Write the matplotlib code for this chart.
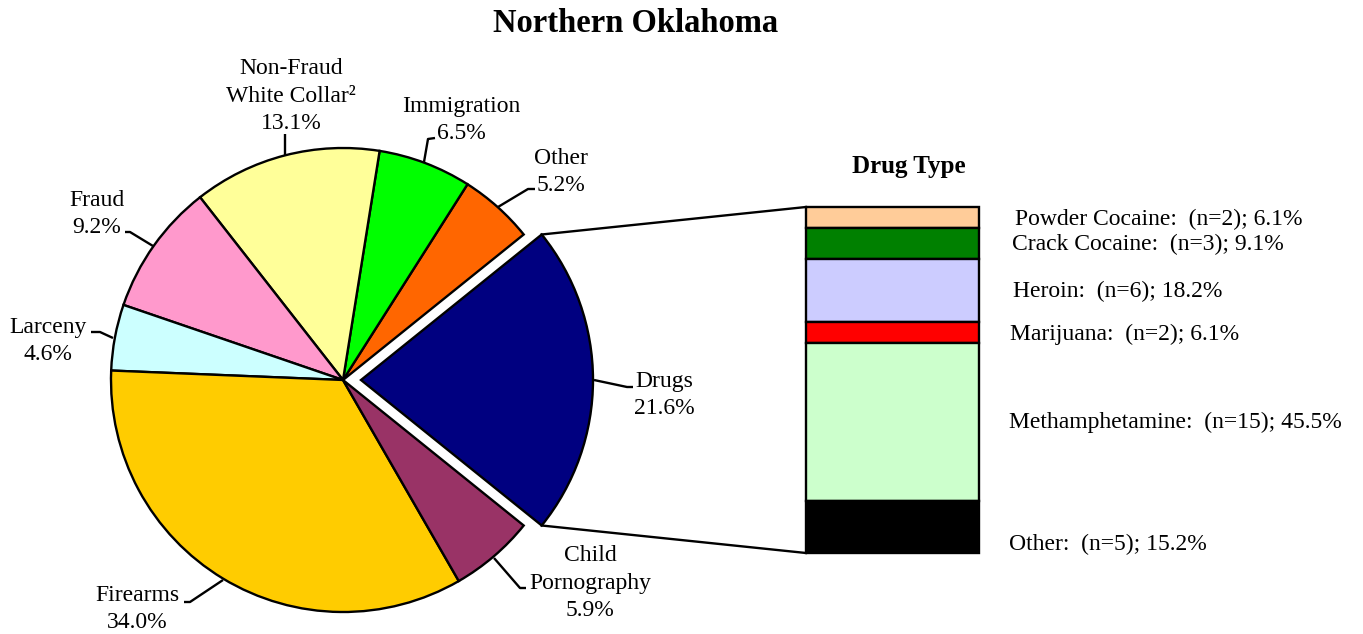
import matplotlib
matplotlib.use("Agg")
import matplotlib.pyplot as plt
import numpy as np

# ---------------- data ----------------
title = "Northern Oklahoma"
categories = ["Drugs", "Other", "Immigration", "Non-Fraud\nWhite Collar\u00b2",
              "Fraud", "Larceny", "Firearms", "Child\nPornography"]
shares = [21.6, 5.2, 6.5, 13.1, 9.2, 4.6, 34.0, 5.9]

drug_title = "Drug Type"
drug_types = ["Powder Cocaine", "Crack Cocaine", "Heroin", "Marijuana",
              "Methamphetamine", "Other"]
drug_counts = [2, 3, 6, 2, 15, 5]
drug_shares = [6.1, 9.1, 18.2, 6.1, 45.5, 15.2]

# ---------------- styles / layout ----------------
pie_colors = ["#000080", "#FF6600", "#00FF00", "#FFFF99",
              "#FF99CC", "#CCFFFF", "#FFCC00", "#993366"]
drug_colors = ["#FFCC99", "#008000", "#CCCCFF", "#FF0000", "#CCFFCC", "#000000"]

W, H = 1363, 634
FONT = "Liberation Serif"
FS = 17

# pie geometry (pixels)
R, CX, CY = 232.0, 343.0, 380.0
EXPLODE_PX = 18.0
HALF = 300.0

# label positions (pixel: x centre, y centre of block)
label_pos = [(664, 395), (561, 172), (461, 120), (291, 96),
             (97, 214), (48, 341), (137, 609), (590, 583)]
leaders = [
    [(594, 380), (627, 387), (633, 387)],
    [(498, 207), (528, 189), (535, 189)],
    [(424, 162), (428, 139), (435, 138)],
    [(285, 155), (285, 134)],
    [(153, 246), (130, 232), (125, 232)],
    [(113, 338), (100, 332), (91, 332)],
    [(223, 580), (190, 602), (184, 602)],
    [(494, 558), (520, 588), (526, 588)],
]

# bar geometry (pixels)
BX0, BX1, BY0, BY1 = 806, 979, 207, 553
drug_label_x = [1015, 1012, 1013, 1010, 1009, 1009]
drug_label_y = [219, 244, 291, 334, 422, 544]

plt.rcParams["font.family"] = [FONT, "DejaVu Serif"]

fig = plt.figure(figsize=(W / 100, H / 100), dpi=100)
fig.patch.set_facecolor("white")

# ---- pie axes ----
pax = fig.add_axes([(CX - HALF) / W, (H - CY - HALF) / H, 2 * HALF / W, 2 * HALF / H])
total = sum(shares)
half_angle = 360.0 * shares[0] / total / 2.0
explode = [EXPLODE_PX / R] + [0] * (len(shares) - 1)
wedges, _ = pax.pie(shares, colors=pie_colors, startangle=-half_angle,
                    counterclock=True, explode=explode, radius=1,
                    wedgeprops=dict(edgecolor="black", linewidth=1.7))
pax.set_xlim(-HALF / R, HALF / R)
pax.set_ylim(-HALF / R, HALF / R)
pax.axis("off")

# ---- bar axes ----
bax = fig.add_axes([BX0 / W, (H - BY1) / H, (BX1 - BX0) / W, (BY1 - BY0) / H])
cum = np.concatenate([[0], np.cumsum(drug_shares)[:-1]])
bars = bax.bar([0] * len(drug_shares), drug_shares, bottom=cum, width=1.0,
               color=drug_colors, edgecolor="black", linewidth=1.7)
for b in bars:
    b.set_clip_on(False)
bax.set_xlim(-0.5, 0.5)
bax.set_ylim(sum(drug_shares), 0)
bax.axis("off")

# ---- overlay axes in pixel coordinates ----
ax = fig.add_axes([0, 0, 1, 1])
ax.set_xlim(0, W)
ax.set_ylim(H, 0)
ax.axis("off")
ax.patch.set_alpha(0)
ax.set_zorder(5)

ax.text(636, 24, title, ha="center", va="center", fontsize=23.5,
        fontweight="bold")
ax.text(909, 166, drug_title, ha="center", va="center", fontsize=18,
        fontweight="bold")

for name, val, (lx, ly), pts in zip(categories, shares, label_pos, leaders):
    ax.text(lx, ly, f"{name}\n{val:.1f}%", ha="center", va="center",
            fontsize=FS, linespacing=1.38)
    xs, ys = zip(*pts)
    ax.plot(xs, ys, color="black", lw=1.7, solid_capstyle="butt")

# connector lines from exploded drugs wedge to bar
ex = CX + EXPLODE_PX
th = np.deg2rad(half_angle)
top_corner = (ex + R * np.cos(th), CY - R * np.sin(th))
bot_corner = (ex + R * np.cos(th), CY + R * np.sin(th))
ax.plot([top_corner[0], BX0], [top_corner[1], BY0], color="black", lw=1.7)
ax.plot([bot_corner[0], BX0], [bot_corner[1], BY1], color="black", lw=1.7)

for name, n, p, x, y in zip(drug_types, drug_counts, drug_shares,
                            drug_label_x, drug_label_y):
    ax.text(x, y, f"{name}:  (n={n}); {p:.1f}%", ha="left", va="center",
            fontsize=FS)

fig.savefig("out.png", dpi=100, facecolor="white")
